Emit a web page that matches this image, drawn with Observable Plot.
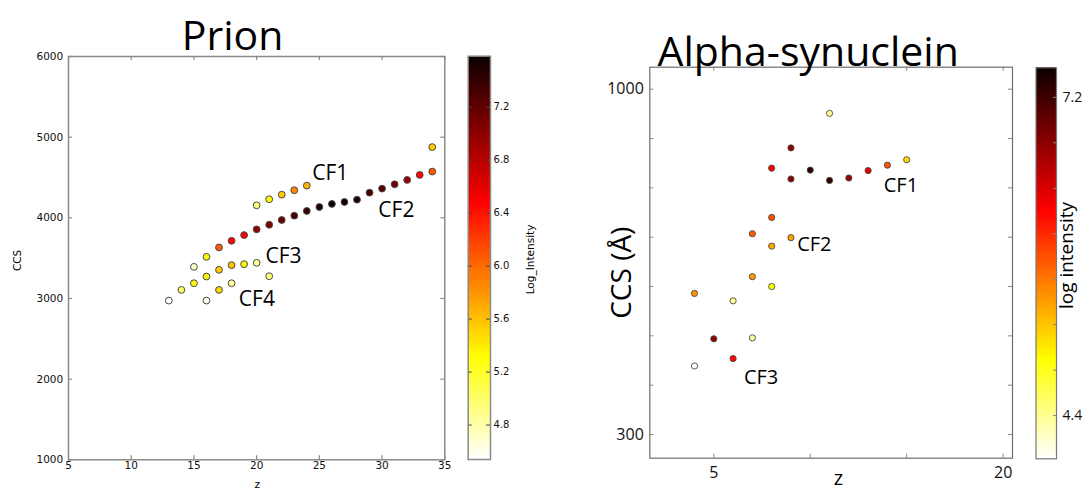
<!DOCTYPE html>
<html><head><meta charset="utf-8">
<script src="https://cdn.jsdelivr.net/npm/d3@7"></script>
<script src="https://cdn.jsdelivr.net/npm/@observablehq/plot@0.6"></script>
<style>
body{margin:0;background:#fff}
#wrap{position:relative;width:1083px;height:490px;overflow:hidden;background:#fff}
</style>
</head><body><div id="wrap"></div>
<script>
// ---------- Prion data ----------
const prionZ = [20,21,22,23,24,34,
  15,16,17,18,19,20,21,22,23,24,25,26,27,28,29,30,31,32,33,34,
  13,14,15,16,17,18,19,20,
  16,17,18,21];
const prionCCS = [4155,4230,4287,4342,4399,4877,
  3392,3516,3633,3715,3786,3857,3914,3973,4026,4085,4134,4172,4196,4225,4312,4362,4416,4470,4532,4573,
  2974,3106,3189,3272,3355,3413,3425,3442,
  2974,3106,3189,3276];
const prionLogI = [4.95,5.35,5.55,5.85,5.65,5.55,
  4.7,5.3,6.05,6.45,6.5,6.95,7.05,7.15,7.3,7.4,7.5,7.55,7.55,7.5,7.3,7.25,7.1,6.95,6.45,6.1,
  4.55,5.0,5.3,5.35,5.55,5.6,5.35,4.85,
  4.6,5.5,4.85,4.95];
const prionLabelText = ["CF1","CF2","CF3","CF4"];
const prionLabelZ = [24.43,29.7,20.71,18.58];
const prionLabelCCS = [4463,4008,3437,2901];
const prionXTicks = [5,10,15,20,25,30,35];
const prionYTicks = [1000,2000,3000,4000,5000,6000];
const prionLogDomain = [4.54,7.585];
const prionCbTicks = [4.8,5.2,5.6,6.0,6.4,6.8,7.2];

// ---------- Alpha-synuclein data ----------
const synZ =   [11,9,8,10,9,11,12,13,14,15, 8,7,9,8,7,8,4,6, 5,7,6,4];
const synCCS = [951,881,840,836,818,815,820,835,846,857, 740,707,699,682,620,600,586,571, 494,496,454,439];
const synLogI = [4.4,6.75,6.25,7.3,6.8,7.3,6.75,6.35,5.8,5.1, 5.8,5.75,5.38,5.35,5.4,4.9,5.45,4.4, 6.8,4.35,6.2,4.05];
const synLabelText = ["CF1","CF2","CF3"];
const synLabelZ = [13.81,9.32,6.56];
const synLabelCCS = [791,673,403];
const synXTicks = [5,10,15,20];
const synXLabels = [5,20];
const synYTicks = [300,400,500,600,700,800,900,1000];
const synYLabels = [300,1000];
const synLogDomain = [4.02,7.46];
const synCbTicks = [4.4,4.8,5.2,5.6,6.0,6.4,6.8,7.2];
const synCbLabels = [4.4,7.2];

// ---------- helpers ----------
function hotR(t){
  const s = 1 - Math.max(0, Math.min(1, t));
  const r = Math.min(1, 0.0416 + s*(1-0.0416)/0.365079);
  const g = Math.max(0, Math.min(1, (s-0.365079)/(0.746032-0.365079)));
  const b = Math.max(0, Math.min(1, (s-0.746032)/(1-0.746032)));
  return d3.rgb(r*255, g*255, b*255).formatHex();
}
function cells(domain, n){
  const [a,b] = domain, step = (b-a)/n;
  return d3.range(n).map(i => ({a: a+i*step, b: Math.min(b, a+(i+1.6)*step), v: a+(i+0.5)*step}));
}
function innerTicks(xt, yt, iw, ih, len, stroke, sw){
  return [
    Plot.ruleX(xt, {x: d=>d, insetTop: ih-len, stroke, strokeWidth: sw}),
    Plot.ruleX(xt, {x: d=>d, insetBottom: ih-len, stroke, strokeWidth: sw}),
    Plot.ruleY(yt, {y: d=>d, insetRight: iw-len, stroke, strokeWidth: sw}),
    Plot.ruleY(yt, {y: d=>d, insetLeft: iw-len, stroke, strokeWidth: sw})
  ];
}
const wrap = document.getElementById("wrap");
function place(el, left){
  el.style.position = "absolute"; el.style.left = left + "px"; el.style.top = "0px";
  wrap.appendChild(el);
}
const baseStyle = {fontFamily:"DejaVu Sans", fontSize:"10.5px", color:"#111", background:"transparent", overflow:"visible"};

// ---------- Prion panel ----------
const prionData = prionZ.map((z,i) => ({z, ccs: prionCCS[i], logI: prionLogI[i]}));
const prionLabels = prionLabelText.map((t,i) => ({text:t, z: prionLabelZ[i], ccs: prionLabelCCS[i]}));
const prionColor = {type:"linear", domain: prionLogDomain, interpolate: hotR, clamp: true};
const PL = {W:460, H:490, l:68, t:56, r:15.7, b:30.7};
const prion = Plot.plot({
  width: PL.W, height: PL.H, marginLeft: PL.l, marginTop: PL.t, marginRight: PL.r, marginBottom: PL.b,
  x: {domain:[5,35]}, y: {domain:[1000,6000]}, color: prionColor,
  style: baseStyle,
  marks: [
    ...innerTicks(prionXTicks, prionYTicks, PL.W-PL.l-PL.r, PL.H-PL.t-PL.b, 4, "#888", 1.2),
    Plot.frame({stroke:"#8a8a8a", strokeWidth:1.5}),
    Plot.axisX({ticks: prionXTicks, tickSize:0, tickPadding:2.2, label:null, tickFormat: d=>String(d), fill:"#111"}),
    Plot.axisY({ticks: prionYTicks, tickSize:0, tickPadding:5.3, label:null, tickFormat: d=>String(d), fill:"#111"}),
    Plot.dot(prionData, {x:"z", y:"ccs", fill:"logI", r:3.4, stroke:"#4a4a4a", strokeWidth:1}),
    Plot.text(prionLabels, {x:"z", y:"ccs", text:"text", textAnchor:"start", lineAnchor:"bottom", fontSize:21, fontFamily:"Open Sans", fill:"#000"}),
    Plot.text(["Prion"], {text:d=>d, frameAnchor:"top", textAnchor:"middle", lineAnchor:"bottom", dx:-24, dy:-6.7, fontSize:41, fontFamily:"Open Sans", fill:"#000"}),
    Plot.text(["CCS"], {text:d=>d, frameAnchor:"left", textAnchor:"middle", lineAnchor:"middle", rotate:-90, dx:-51, dy:2.3, fill:"#000"}),
    Plot.text(["z"], {text:d=>d, frameAnchor:"bottom", textAnchor:"middle", lineAnchor:"bottom", dx:0.7, dy:28, fill:"#000"})
  ]
});
place(prion, 0);

const PC = {W:80, H:490, l:7.7, t:55.7, r:50, b:31};
const prionCb = Plot.plot({
  width: PC.W, height: PC.H, marginLeft: PC.l, marginTop: PC.t, marginRight: PC.r, marginBottom: PC.b,
  y: {domain: prionLogDomain}, color: prionColor,
  style: baseStyle,
  marks: [
    Plot.rect(cells(prionLogDomain, 400), {y1:"a", y2:"b", fill:"v", shapeRendering:"crispEdges"}),
    Plot.ruleY(prionCbTicks, {y:d=>d, insetLeft: PC.W-PC.l-PC.r-4, stroke:"#444"}),
    Plot.ruleY(prionCbTicks, {y:d=>d, insetRight: PC.W-PC.l-PC.r-4, stroke:"#444"}),
    Plot.frame({stroke:"#8a8a8a", strokeWidth:1.5}),
    Plot.axisY({anchor:"right", ticks: prionCbTicks, tickSize:0, tickPadding:3, label:null, tickFormat: d=>d.toFixed(1), fill:"#111", fontSize:10}),
    Plot.text(["Log_Intensity"], {text:d=>d, frameAnchor:"right", textAnchor:"middle", lineAnchor:"middle", rotate:-90, dx:39.7, dy:1.6, fontSize:10.5, fill:"#000"})
  ]
});
place(prionCb, 460);

// ---------- Alpha-synuclein panel ----------
const synData = synZ.map((z,i) => ({z, ccs: synCCS[i], logI: synLogI[i]}));
const synLabels = synLabelText.map((t,i) => ({text:t, z: synLabelZ[i], ccs: synLabelCCS[i]}));
const synColor = {type:"linear", domain: synLogDomain, interpolate: hotR, clamp: true};
const SL = {W:470, H:490, l:89.3, t:66.7, r:18, b:32.3};
const syn = Plot.plot({
  width: SL.W, height: SL.H, marginLeft: SL.l, marginTop: SL.t, marginRight: SL.r, marginBottom: SL.b,
  x: {domain:[1.682,20.485]}, y: {domain:[252,1044.6]}, color: synColor,
  style: {...baseStyle, fontFamily:"Open Sans", fontSize:"16px"},
  marks: [
    ...innerTicks(synXTicks, synYTicks, SL.W-SL.l-SL.r, SL.H-SL.t-SL.b, 4, "#888", 1),
    Plot.frame({stroke:"#6e6e6e", strokeWidth:1.2}),
    Plot.axisX({ticks: synXLabels, tickSize:0, tickPadding:8.3, label:null, tickFormat: d=>String(d), fill:"#111"}),
    Plot.axisY({ticks: synYLabels, tickSize:0, tickPadding:6, label:null, tickFormat: d=>String(d), fill:"#111"}),
    Plot.dot(synData, {x:"z", y:"ccs", fill:"logI", r:3.1, stroke:"#4a4a4a", strokeWidth:0.9}),
    Plot.text(synLabels, {x:"z", y:"ccs", text:"text", textAnchor:"start", lineAnchor:"bottom", fontSize:20, fontFamily:"Open Sans", fill:"#000"}),
    Plot.text(["Alpha-synuclein"], {text:d=>d, frameAnchor:"top", textAnchor:"middle", lineAnchor:"bottom", dx:-23, dy:-1.7, fontSize:41, fontFamily:"Open Sans", fill:"#000"}),
    Plot.text(["CCS (Å)"], {text:d=>d, frameAnchor:"left", textAnchor:"middle", lineAnchor:"middle", rotate:-90, dx:-27.8, dy:10, fontSize:28, fill:"#000"}),
    Plot.text(["z"], {text:d=>d, frameAnchor:"bottom", textAnchor:"middle", lineAnchor:"bottom", dx:7.4, dy:26.3, fontSize:20, fill:"#000"})
  ]
});
place(syn, 560);

const SC = {W:53, H:490, l:5.5, t:67.3, r:27, b:31.7};
const synCb = Plot.plot({
  width: SC.W, height: SC.H, marginLeft: SC.l, marginTop: SC.t, marginRight: SC.r, marginBottom: SC.b,
  y: {domain: synLogDomain}, color: synColor,
  style: {...baseStyle, fontFamily:"Open Sans", fontSize:"14px"},
  marks: [
    Plot.rect(cells(synLogDomain, 400), {y1:"a", y2:"b", fill:"v", shapeRendering:"crispEdges"}),
    Plot.ruleY(synCbTicks, {y:d=>d, insetLeft: SC.W-SC.l-SC.r-3, stroke:"#888"}),
    Plot.frame({stroke:"#777", strokeWidth:1.2}),
    Plot.axisY({anchor:"right", ticks: synCbLabels, tickSize:0, tickPadding:6, label:null, tickFormat: d=>d.toFixed(1), fill:"#111"}),
    Plot.text(["log intensity"], {text:d=>d, frameAnchor:"right", textAnchor:"middle", lineAnchor:"middle", rotate:-90, dx:10.4, dy:-7.8, fontSize:19, fill:"#000"})
  ]
});
place(synCb, 1030);
</script>
</body></html>
